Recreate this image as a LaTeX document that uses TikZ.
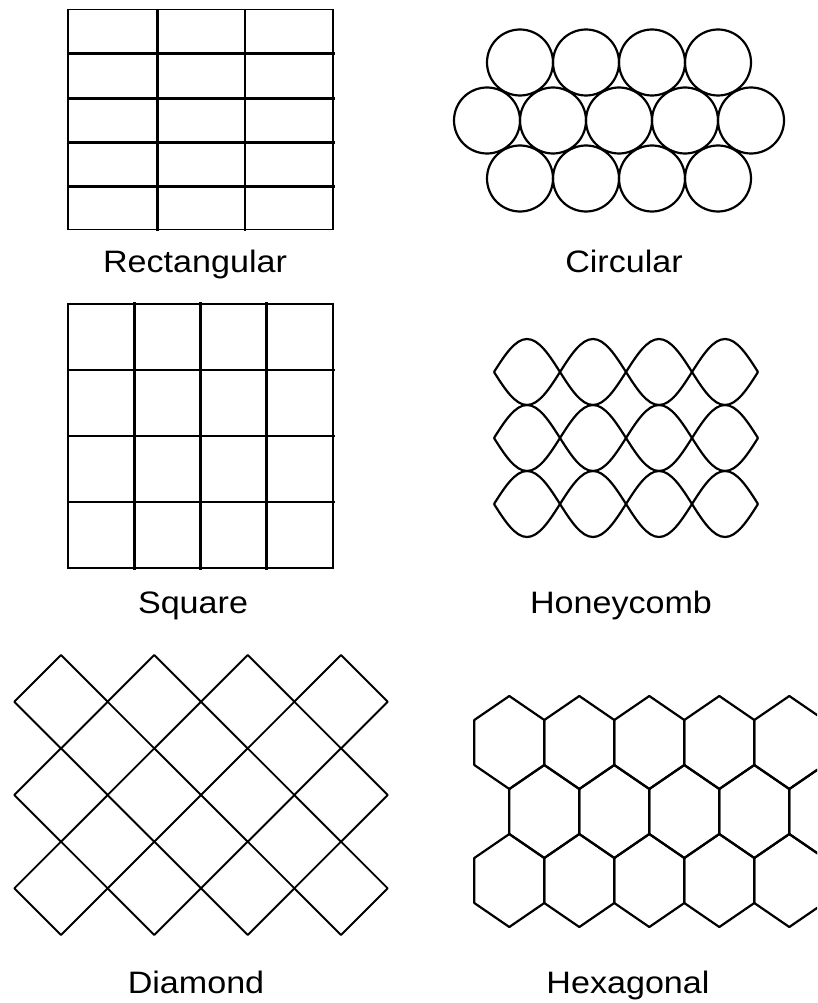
\documentclass[tikz,border=0pt]{standalone}
\usepackage{fontspec}
\setmainfont{Liberation Sans}

\begin{document}
\begin{tikzpicture}[x=1pt,y=-1pt,
    frame/.style={line width=1.5pt},
    bar/.style={line width=2.8pt},
    mesh/.style={line width=2.2pt,line join=round},
    caption/.style={anchor=base,xscale=1.1,font=\fontsize{31}{36}\selectfont}]
  \useasboundingbox (0,0) rectangle (817,1003);

  % rectangular
  \draw[frame] (68,9.5) rectangle (333,229.5);
  \foreach \y in {53.5,98.5,142.5,186.5}
    \draw[bar] (68,\y) -- (335,\y);
  \foreach \x in {157.5,245}
    \draw[bar] (\x,9.5) -- (\x,231);
  \node[caption] (rect) at (195,272) {Rectangular};

  % circular
  \foreach \i in {0,...,3} {
    \draw[mesh] (520+66*\i,62.5) circle (33);
    \draw[mesh] (520+66*\i,178.5) circle (33);
  }
  \foreach \i in {0,...,4}
    \draw[mesh] (487+66*\i,120.5) circle (33);
  \node[caption] (circ) at (624,272) {Circular};

  % square
  \draw[frame] (68,304) rectangle (333,568);
  \foreach \k in {1,2,3} {
    \draw[bar] (68,304+66*\k) -- (335,304+66*\k);
    \draw[bar] (68+66.25*\k,302) -- (68+66.25*\k,570);
  }
  \node[caption] (sq) at (193,613) {Square};

  % honeycomb
  \foreach \y in {372,438,504}
    \foreach \x in {494,560,626,692} {
      \draw[mesh] (\x,\y) sin (\x+33,\y-33) cos (\x+66,\y);
      \draw[mesh] (\x,\y) sin (\x+33,\y+33) cos (\x+66,\y);
    }
  \node[caption] (honey) at (621,613) {Honeycomb};

  % diamond
  \foreach \x in {61,154.3,247.7,341}
    \foreach \y in {701.7,795,888.3}
      \draw[mesh,line width=1.9pt] (\x,\y-46.7) -- (\x+46.7,\y) -- (\x,\y+46.7)
        -- (\x-46.7,\y) -- cycle;
  \node[caption] (diam) at (196,993) {Diamond};

  % hexagonal
  \begin{scope}
    \clip (455,680) rectangle (817,940);
    \foreach \r/\dx in {0/0,1/35,2/0}
      \foreach \k in {0,...,4}
        \draw[mesh] (509.3+\dx+70*\k,696+69*\r) -- ++(35,24) -- ++(0,45)
          -- ++(-35,24) -- ++(-35,-24) -- ++(0,-45) -- cycle;
  \end{scope}
  \node[caption] (hex) at (628,993) {Hexagonal};
\end{tikzpicture}
\end{document}
